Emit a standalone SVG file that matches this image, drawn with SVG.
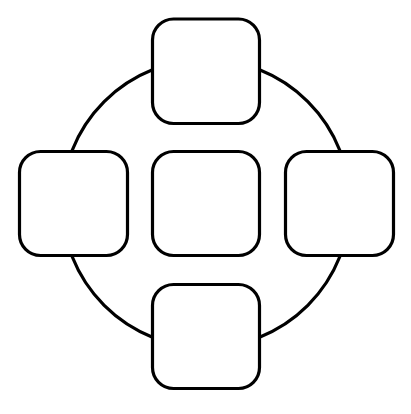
<svg xmlns="http://www.w3.org/2000/svg" width="411" height="414" viewBox="0 0 411 414">
<style>
.box{fill:#fff;stroke:#000;stroke-width:3.2}
.ring{fill:none;stroke:#000;stroke-width:3.2}
</style>
<rect width="411" height="414" fill="#fff"/>
<g id="connectors">
<circle class="ring" cx="206" cy="203.5" r="144"/>
</g>
<g id="node-top"><rect class="box" x="152.5" y="19" width="107" height="104.5" rx="21"/></g>
<g id="node-left"><rect class="box" x="19.5" y="151.5" width="108" height="104" rx="21"/></g>
<g id="node-center"><rect class="box" x="152.5" y="151.5" width="107" height="104" rx="21"/></g>
<g id="node-right"><rect class="box" x="285.5" y="151.5" width="108" height="104" rx="21"/></g>
<g id="node-bottom"><rect class="box" x="152.5" y="284.5" width="107" height="104" rx="21"/></g>
</svg>
